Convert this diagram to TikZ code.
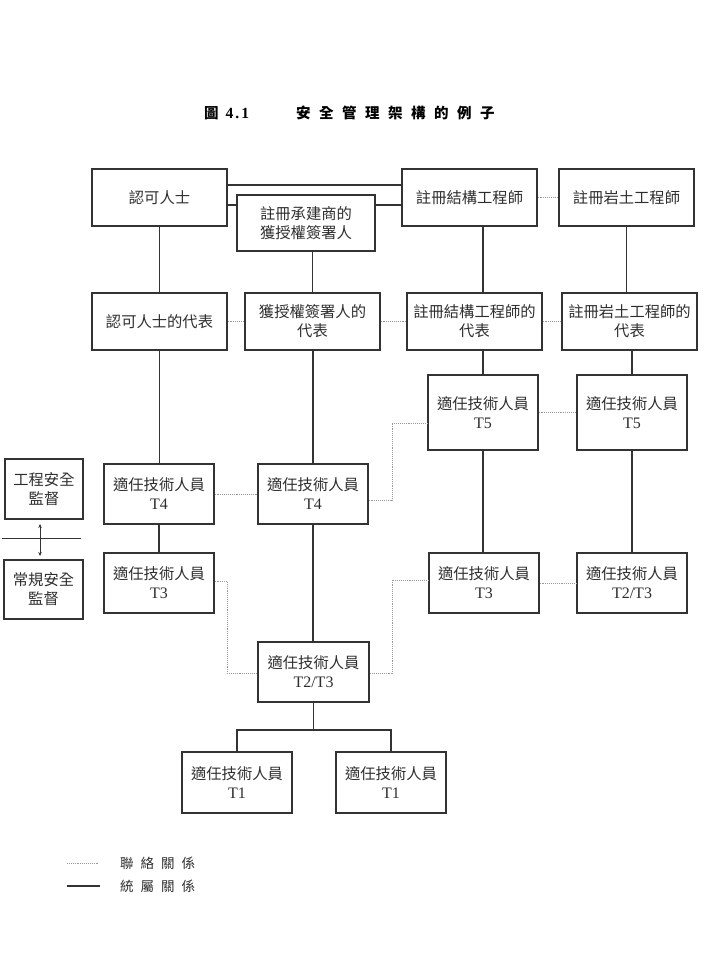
\documentclass[tikz,border=0pt]{standalone}
\usepackage{fontspec}
\setmainfont{Liberation Serif}
\newfontfamily\cjk{Noto Sans CJK TC}
\usetikzlibrary{arrows.meta,calc}
\definecolor{boxc}{HTML}{333333}
\definecolor{txtc}{HTML}{2E2E2E}
\definecolor{dotc}{HTML}{9A9A9A}
\begin{document}
\begin{tikzpicture}[x=1pt,y=-1pt,
  box/.style={draw=boxc, line width=1.2pt, fill=white, inner sep=0pt, align=center, text=txtc,
    font=\cjk\fontsize{15.3}{19}\selectfont},
  rel/.style={draw=boxc, line width=1.2pt},
  liaison/.style={draw=dotc, line width=0.9pt, densely dotted},
  wA/.style={minimum width=135pt, minimum height=57pt},
  wB/.style={minimum width=110pt, minimum height=60pt},
]
\useasboundingbox (0,0) rectangle (717,977);
\fill[white] (0,0) rectangle (717,977);

% title
\node[anchor=west, text=black, inner sep=0pt] (ttlA) at (204,113)
  {{\cjk\bfseries\fontsize{14.5}{16}\selectfont 圖}\hspace{7pt}{\bfseries\fontsize{15.5}{16}\selectfont 4\hspace{2pt}.\hspace{2pt}1}};
\node[anchor=west, text=black, inner sep=0pt, font=\cjk\bfseries\fontsize{14.5}{16}\selectfont] (ttlB) at (296,113)
  {安\hspace{8.5pt}全\hspace{8.5pt}管\hspace{8.5pt}理\hspace{8.5pt}架\hspace{8.5pt}構\hspace{8.5pt}的\hspace{8.5pt}例\hspace{8.5pt}子};

% row 1
\node[box, wA] (AP) at (159.5,197.5) {認可人士};
\node[box, minimum width=138pt, minimum height=56pt] (RC) at (306,223) {註冊承建商的\\獲授權簽署人};
\node[box, wA] (RSE) at (469.5,197.5) {註冊結構工程師};
\node[box, wA] (RGE) at (626.5,197.5) {註冊岩土工程師};
% row 2
\node[box, wA] (APR) at (159.5,321.5) {認可人士的代表};
\node[box, wA] (RCR) at (312.5,321.5) {獲授權簽署人的\\代表};
\node[box, wA] (RSER) at (474.5,321.5) {註冊結構工程師的\\代表};
\node[box, wA] (RGER) at (629.5,321.5) {註冊岩土工程師的\\代表};
% T5
\node[box, minimum width=110pt, minimum height=75pt] (T5a) at (483,412.5) {適任技術人員\\{\rmfamily\fontsize{16}{19}\selectfont T5}};
\node[box, minimum width=110pt, minimum height=75pt] (T5b) at (632,412.5) {適任技術人員\\{\rmfamily\fontsize{16}{19}\selectfont T5}};
% T4
\node[box, wB] (T4a) at (159,494) {適任技術人員\\{\rmfamily\fontsize{16}{19}\selectfont T4}};
\node[box, wB] (T4b) at (313,494) {適任技術人員\\{\rmfamily\fontsize{16}{19}\selectfont T4}};
% T3 row
\node[box, wB] (T3a) at (159,583) {適任技術人員\\{\rmfamily\fontsize{16}{19}\selectfont T3}};
\node[box, wB] (T3b) at (484,583) {適任技術人員\\{\rmfamily\fontsize{16}{19}\selectfont T3}};
\node[box, wB] (T23b) at (632,583) {適任技術人員\\{\rmfamily\fontsize{16}{19}\selectfont T2/T3}};
% T2/T3 center
\node[box, minimum width=111pt, minimum height=60pt] (T23c) at (313.5,672) {適任技術人員\\{\rmfamily\fontsize{16}{19}\selectfont T2/T3}};
% T1
\node[box, minimum width=110pt, minimum height=61pt] (T1a) at (237,782.5) {適任技術人員\\{\rmfamily\fontsize{16}{19}\selectfont T1}};
\node[box, minimum width=110pt, minimum height=61pt] (T1b) at (391,782.5) {適任技術人員\\{\rmfamily\fontsize{16}{19}\selectfont T1}};
% safety supervision
\node[box, minimum width=78pt, minimum height=60pt] (SS1) at (44,489) {工程安全\\監督};
\node[box, minimum width=79pt, minimum height=59pt] (SS2) at (43.5,589.5) {常規安全\\監督};

% top solid connections
\coordinate (yA) at (0,185);
\coordinate (yB) at (0,205);
\draw[rel] (AP.east |- yA) -- (RSE.west |- yA);
\draw[rel] (AP.east |- yB) -- (RC.west |- yB);
\draw[rel] (RC.east |- yB) -- (RSE.west |- yB);

% vertical solid connections
\draw[rel] (AP.south) -- (APR.north);
\draw[rel] (RC.south -| RCR.north) -- (RCR.north);
\draw[rel] (RSE.south -| T5a.north) -- (RSER.north -| T5a.north);
\draw[rel] (RGE.south) -- (RGER.north -| RGE.south);
\draw[rel] (RSER.south -| T5a.north) -- (T5a.north);
\draw[rel] (RGER.south -| T5b.north) -- (T5b.north);
\draw[rel] (APR.south) -- (APR.south |- T4a.north);
\draw[rel] (RCR.south -| T4b.north) -- (T4b.north);
\draw[rel] (T4a.south) -- (T3a.north);
\draw[rel] (T4b.south) -- (T4b.south |- T23c.north);
\draw[rel] (T5a.south) -- (T5a.south |- T3b.north);
\draw[rel] (T5b.south) -- (T23b.north);
\coordinate (tb) at (313,730);
\draw[rel] (T23c.south) -- (T23c.south |- tb);
\draw[rel] (T1a.north) -- (T1a.north |- tb) -- (T1b.north |- tb) -- (T1b.north);

% liaison (dotted)
\draw[liaison] (RSE.east) -- (RGE.west);
\draw[liaison] (APR.east) -- (RCR.west);
\draw[liaison] (RCR.east) -- (RSER.west |- RCR.east);
\draw[liaison] (RSER.east) -- (RGER.west);
\draw[liaison] (T5a.east) -- (T5b.west);
\draw[liaison] (T4a.east) -- (T4b.west);
\draw[liaison] (T3b.east) -- (T23b.west);
\coordinate (p1) at (392,423);
\coordinate (p2) at (392,500);
\draw[liaison] (T5a.west |- p1) -- (p1) -- (p2) -- (T4b.east |- p2);
\coordinate (q1) at (227,581);
\coordinate (q2) at (227,673);
\draw[liaison] (T3a.east |- q1) -- (q1) -- (q2) -- (T23c.west |- q2);
\coordinate (r1) at (392,580);
\coordinate (r2) at (392,673);
\draw[liaison] (T3b.west |- r1) -- (r1) -- (r2) -- (T23c.east |- r2);

% separator and arrow
\coordinate (sL) at (2,538);
\coordinate (sR) at (81,538);
\draw[rel, line width=1pt] (sL) -- (sR);
\coordinate (a1) at (40,524);
\coordinate (a2) at (40,556);
\draw[draw=boxc, line width=1pt, {Stealth[length=4pt,width=3.5pt]}-{Stealth[length=4pt,width=3.5pt]}] (a1) -- (a2);

% legend
\coordinate (l1a) at (67,863);
\coordinate (l1b) at (99,863);
\coordinate (l2a) at (67,886);
\coordinate (l2b) at (100,886);
\draw[liaison, line width=0.8pt] (l1a) -- (l1b);
\draw[rel, line width=1.2pt] (l2a) -- (l2b);
\node[anchor=west, inner sep=0pt, text=txtc, font=\cjk\fontsize{13.5}{15}\selectfont] (lg1) at (120,863)
  {聯\hspace{7pt}絡\hspace{7pt}關\hspace{7pt}係};
\node[anchor=west, inner sep=0pt, text=txtc, font=\cjk\fontsize{13.5}{15}\selectfont] (lg2) at (120,886)
  {統\hspace{7pt}屬\hspace{7pt}關\hspace{7pt}係};
\end{tikzpicture}
\end{document}
